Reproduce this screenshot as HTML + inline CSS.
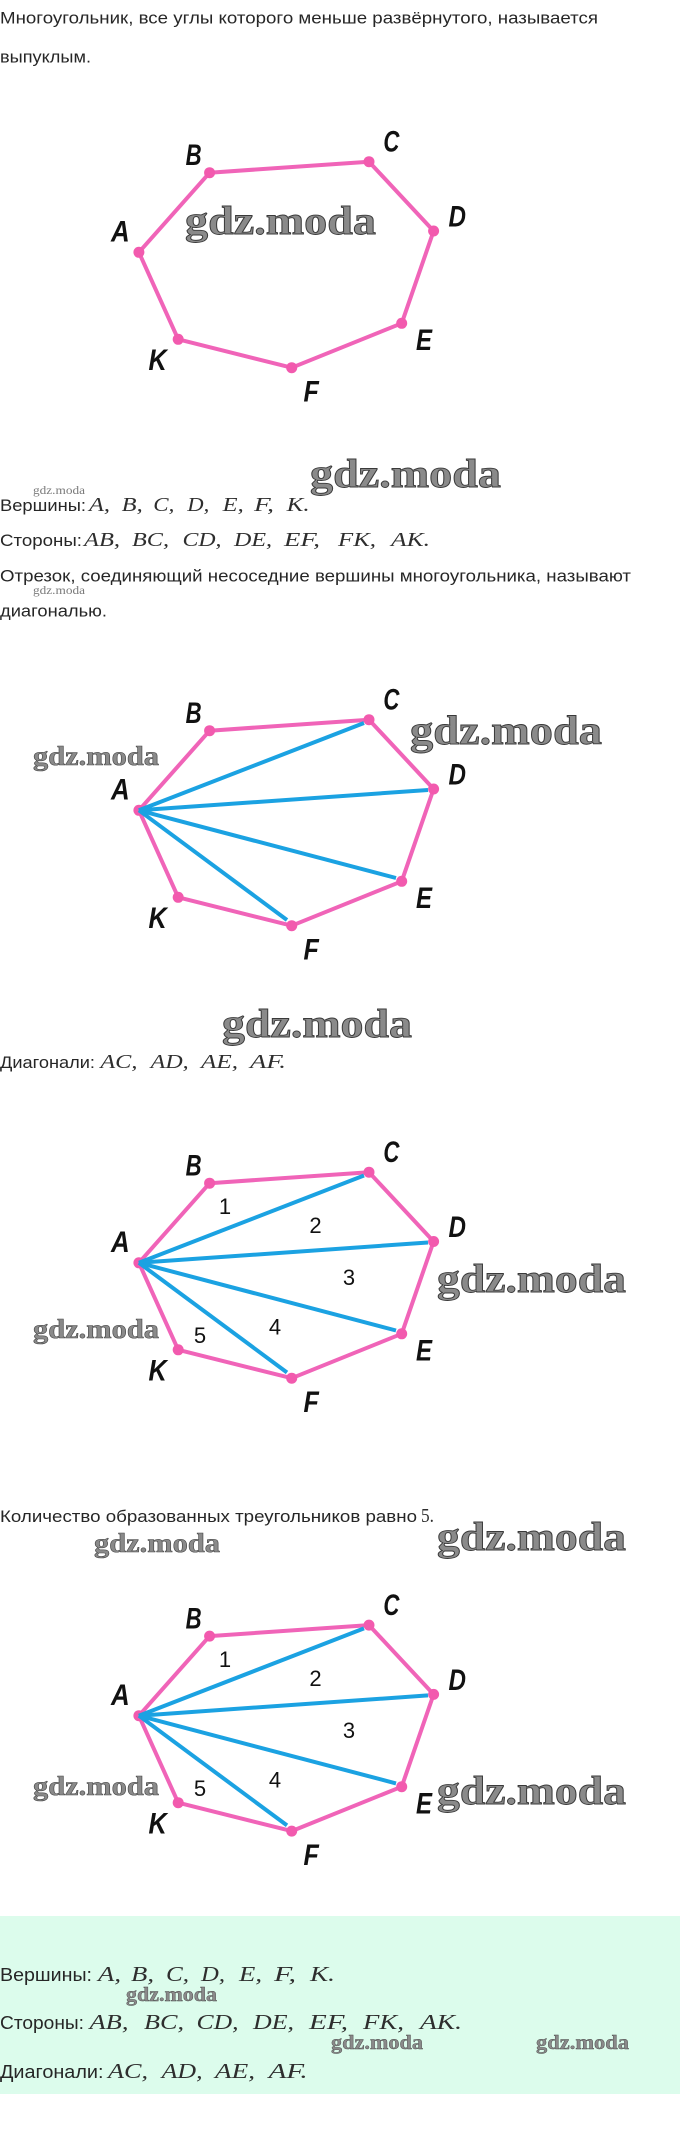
<!DOCTYPE html>
<html><head><meta charset="utf-8">
<style>
html,body{margin:0;padding:0;background:#fff;}
svg{display:block;}
.t{font-family:"Liberation Sans","DejaVu Sans",sans-serif;fill:#262626;}
.m{font-family:"Liberation Serif","DejaVu Serif",serif;font-style:italic;fill:#2e2e2e;font-size:20px;}
.mb{font-family:"Liberation Serif","DejaVu Serif",serif;font-style:italic;fill:#2e2e2e;font-size:21.5px;}
.lb{font-family:"Liberation Sans","DejaVu Sans",sans-serif;font-style:italic;font-weight:bold;font-size:30px;fill:#111;}
.n{font-family:"Liberation Sans","DejaVu Sans",sans-serif;font-size:22px;fill:#111;text-anchor:middle;}
.wl{font-family:"Liberation Serif","DejaVu Serif",serif;font-weight:bold;fill:#8a8a8a;stroke:#3a3a3a;stroke-width:0.9;}
.wm{font-family:"Liberation Serif","DejaVu Serif",serif;font-weight:bold;fill:#8a8a8a;stroke:#474747;stroke-width:0.6;}
.ws{font-family:"Liberation Serif","DejaVu Serif",serif;fill:#7a7a7a;}
</style></head>
<body>
<svg width="680" height="2130" viewBox="0 0 680 2130" xmlns="http://www.w3.org/2000/svg">
<defs>
  <g id="poly">
    <polygon points="138.9,252.3 209.6,172.7 369,161.7 433.6,231 401.7,323.3 291.7,367.7 178.2,339.3" fill="none" stroke="#f064b8" stroke-width="4" stroke-linejoin="round"/>
  </g>
  <g id="dots">
    <circle cx="209.6" cy="172.7" r="5.5" fill="#f25aae"/>
    <circle cx="369" cy="161.7" r="5.5" fill="#f25aae"/>
    <circle cx="433.6" cy="231" r="5.5" fill="#f25aae"/>
    <circle cx="401.7" cy="323.3" r="5.5" fill="#f25aae"/>
    <circle cx="291.7" cy="367.7" r="5.5" fill="#f25aae"/>
    <circle cx="178.2" cy="339.3" r="5.5" fill="#f25aae"/>
  </g>
  <g id="diag">
    <line x1="138.9" y1="252.3" x2="364" y2="165" stroke="#1ba2e2" stroke-width="4"/>
    <line x1="138.9" y1="252.3" x2="428" y2="232" stroke="#1ba2e2" stroke-width="4"/>
    <line x1="138.9" y1="252.3" x2="396" y2="320" stroke="#1ba2e2" stroke-width="4"/>
    <line x1="138.9" y1="252.3" x2="287" y2="362" stroke="#1ba2e2" stroke-width="4"/>
  </g>
  <g id="labels">
    <text class="lb" x="185.6" y="165" textLength="16" lengthAdjust="spacingAndGlyphs">B</text>
    <text class="lb" x="383.4" y="151.7" textLength="16" lengthAdjust="spacingAndGlyphs">C</text>
    <text class="lb" x="448.5" y="226.7" textLength="17.5" lengthAdjust="spacingAndGlyphs">D</text>
    <text class="lb" x="111" y="241.7" textLength="18.7" lengthAdjust="spacingAndGlyphs">A</text>
    <text class="lb" x="416" y="350" textLength="16" lengthAdjust="spacingAndGlyphs">E</text>
    <text class="lb" x="148.5" y="370" textLength="18.3" lengthAdjust="spacingAndGlyphs">K</text>
    <text class="lb" x="303.5" y="401.7" textLength="15.3" lengthAdjust="spacingAndGlyphs">F</text>
  </g>
  <g id="nums">
    <text class="n" x="225" y="203.5">1</text>
    <text class="n" x="315.5" y="222.5">2</text>
    <text class="n" x="349" y="274.5">3</text>
    <text class="n" x="275" y="324">4</text>
    <text class="n" x="200" y="332.5">5</text>
  </g>
</defs>

<!-- Section 1 text -->
<text class="t" x="0" y="23.5" font-size="16.5" textLength="598" lengthAdjust="spacingAndGlyphs">Многоугольник, все углы которого меньше развёрнутого, называется</text>
<text class="t" x="0" y="62.5" font-size="16.5" textLength="91" lengthAdjust="spacingAndGlyphs">выпуклым.</text>

<!-- Polygon 1 -->
<g>
  <use href="#poly"/>
  <circle cx="138.9" cy="252.3" r="5.5" fill="#f25aae"/>
  <use href="#dots"/>
  <use href="#labels"/>
  <text class="wl" x="185" y="234" font-size="40" textLength="191" lengthAdjust="spacingAndGlyphs">gdz.moda</text>
</g>

<!-- Section 1 lists -->
<text class="wl" x="310" y="487" font-size="40" textLength="191" lengthAdjust="spacingAndGlyphs">gdz.moda</text>
<text class="ws" x="33" y="494" font-size="12" textLength="52" lengthAdjust="spacingAndGlyphs">gdz.moda</text>
<text class="t" x="0" y="511" font-size="16.5" textLength="86" lengthAdjust="spacingAndGlyphs">Вершины:</text>
<text class="m" x="89" y="511" textLength="21" lengthAdjust="spacingAndGlyphs">A,</text>
<text class="m" x="121.7" y="511" textLength="21" lengthAdjust="spacingAndGlyphs">B,</text>
<text class="m" x="153.3" y="511" textLength="21" lengthAdjust="spacingAndGlyphs">C,</text>
<text class="m" x="187.3" y="511" textLength="22" lengthAdjust="spacingAndGlyphs">D,</text>
<text class="m" x="222.7" y="511" textLength="21" lengthAdjust="spacingAndGlyphs">E,</text>
<text class="m" x="254" y="511" textLength="20" lengthAdjust="spacingAndGlyphs">F,</text>
<text class="m" x="286.7" y="511" textLength="23" lengthAdjust="spacingAndGlyphs">K.</text>

<text class="t" x="0" y="546" font-size="16.5" textLength="82" lengthAdjust="spacingAndGlyphs">Стороны:</text>
<text class="m" x="84" y="546" textLength="36" lengthAdjust="spacingAndGlyphs">AB,</text>
<text class="m" x="132" y="546" textLength="37" lengthAdjust="spacingAndGlyphs">BC,</text>
<text class="m" x="182.5" y="546" textLength="39" lengthAdjust="spacingAndGlyphs">CD,</text>
<text class="m" x="234" y="546" textLength="38" lengthAdjust="spacingAndGlyphs">DE,</text>
<text class="m" x="284" y="546" textLength="36" lengthAdjust="spacingAndGlyphs">EF,</text>
<text class="m" x="338" y="546" textLength="38" lengthAdjust="spacingAndGlyphs">FK,</text>
<text class="m" x="391" y="546" textLength="39" lengthAdjust="spacingAndGlyphs">AK.</text>

<text class="t" x="0" y="581.5" font-size="16.5" textLength="631" lengthAdjust="spacingAndGlyphs">Отрезок, соединяющий несоседние вершины многоугольника, называют</text>
<text class="ws" x="33" y="594" font-size="12" textLength="52" lengthAdjust="spacingAndGlyphs">gdz.moda</text>
<text class="t" x="0" y="616.5" font-size="16.5" textLength="107" lengthAdjust="spacingAndGlyphs">диагональю.</text>

<!-- Polygon 2 -->
<g transform="translate(0,558)">
  <use href="#poly"/>
  <circle cx="138.9" cy="252.3" r="5.5" fill="#f25aae"/>
  <use href="#diag"/>
  <use href="#dots"/>
  <use href="#labels"/>
</g>
<text class="wm" x="33" y="765" font-size="27" textLength="126" lengthAdjust="spacingAndGlyphs">gdz.moda</text>
<text class="wl" x="410" y="744" font-size="41" textLength="192" lengthAdjust="spacingAndGlyphs">gdz.moda</text>
<text class="wl" x="222" y="1037" font-size="40" textLength="190" lengthAdjust="spacingAndGlyphs">gdz.moda</text>
<text class="t" x="0" y="1068" font-size="16.5" textLength="95" lengthAdjust="spacingAndGlyphs">Диагонали:</text>
<text class="m" x="100.4" y="1068" textLength="37" lengthAdjust="spacingAndGlyphs">AC,</text>
<text class="m" x="150.7" y="1068" textLength="38" lengthAdjust="spacingAndGlyphs">AD,</text>
<text class="m" x="201" y="1068" textLength="37" lengthAdjust="spacingAndGlyphs">AE,</text>
<text class="m" x="250" y="1068" textLength="36" lengthAdjust="spacingAndGlyphs">AF.</text>

<!-- Polygon 3 -->
<g transform="translate(0,1010.5)">
  <use href="#poly"/>
  <circle cx="138.9" cy="252.3" r="5.5" fill="#f25aae"/>
  <use href="#diag"/>
  <use href="#dots"/>
  <use href="#labels"/>
  <use href="#nums"/>
</g>
<text class="wm" x="33" y="1338" font-size="27" textLength="126" lengthAdjust="spacingAndGlyphs">gdz.moda</text>
<text class="wl" x="437" y="1292" font-size="40" textLength="189" lengthAdjust="spacingAndGlyphs">gdz.moda</text>

<!-- Section 4 -->
<text class="t" x="0" y="1522" font-size="16.5" textLength="417" lengthAdjust="spacingAndGlyphs">Количество образованных треугольников равно</text>
<text class="m" x="421" y="1522" style="font-style:normal" textLength="13" lengthAdjust="spacingAndGlyphs">5.</text>
<text class="wm" x="94" y="1552" font-size="27" textLength="126" lengthAdjust="spacingAndGlyphs">gdz.moda</text>
<text class="wl" x="437" y="1550" font-size="40" textLength="189" lengthAdjust="spacingAndGlyphs">gdz.moda</text>

<g transform="translate(0,1463.4)">
  <use href="#poly"/>
  <circle cx="138.9" cy="252.3" r="5.5" fill="#f25aae"/>
  <use href="#diag"/>
  <use href="#dots"/>
  <use href="#labels"/>
  <use href="#nums"/>
</g>
<text class="wm" x="33" y="1795" font-size="27" textLength="126" lengthAdjust="spacingAndGlyphs">gdz.moda</text>
<text class="wl" x="437" y="1804" font-size="40" textLength="189" lengthAdjust="spacingAndGlyphs">gdz.moda</text>

<!-- Bottom answer box -->
<rect x="0" y="1916" width="680" height="178" fill="#dcfcec"/>
<text class="t" x="0" y="1981" font-size="18" textLength="92" lengthAdjust="spacingAndGlyphs">Вершины:</text>
<text class="mb" x="98" y="1981" textLength="23" lengthAdjust="spacingAndGlyphs">A,</text>
<text class="mb" x="131" y="1981" textLength="23" lengthAdjust="spacingAndGlyphs">B,</text>
<text class="mb" x="166" y="1981" textLength="23" lengthAdjust="spacingAndGlyphs">C,</text>
<text class="mb" x="201" y="1981" textLength="24" lengthAdjust="spacingAndGlyphs">D,</text>
<text class="mb" x="239" y="1981" textLength="23" lengthAdjust="spacingAndGlyphs">E,</text>
<text class="mb" x="274" y="1981" textLength="22" lengthAdjust="spacingAndGlyphs">F,</text>
<text class="mb" x="310" y="1981" textLength="25" lengthAdjust="spacingAndGlyphs">K.</text>
<text class="wm" x="126" y="2001" font-size="20" textLength="91" lengthAdjust="spacingAndGlyphs" style="stroke-width:0.4">gdz.moda</text>

<text class="t" x="0" y="2029" font-size="18" textLength="84" lengthAdjust="spacingAndGlyphs">Стороны:</text>
<text class="mb" x="89.5" y="2029" textLength="39" lengthAdjust="spacingAndGlyphs">AB,</text>
<text class="mb" x="144" y="2029" textLength="40" lengthAdjust="spacingAndGlyphs">BC,</text>
<text class="mb" x="196.5" y="2029" textLength="42" lengthAdjust="spacingAndGlyphs">CD,</text>
<text class="mb" x="253" y="2029" textLength="41" lengthAdjust="spacingAndGlyphs">DE,</text>
<text class="mb" x="309" y="2029" textLength="39" lengthAdjust="spacingAndGlyphs">EF,</text>
<text class="mb" x="363" y="2029" textLength="41" lengthAdjust="spacingAndGlyphs">FK,</text>
<text class="mb" x="420" y="2029" textLength="42" lengthAdjust="spacingAndGlyphs">AK.</text>
<text class="wm" x="331" y="2049" font-size="20" textLength="92" lengthAdjust="spacingAndGlyphs" style="stroke-width:0.4">gdz.moda</text>
<text class="wm" x="536" y="2049" font-size="20" textLength="93" lengthAdjust="spacingAndGlyphs" style="stroke-width:0.4">gdz.moda</text>

<text class="t" x="0" y="2078" font-size="18" textLength="103.5" lengthAdjust="spacingAndGlyphs">Диагонали:</text>
<text class="mb" x="108" y="2078" textLength="40" lengthAdjust="spacingAndGlyphs">AC,</text>
<text class="mb" x="161.6" y="2078" textLength="41" lengthAdjust="spacingAndGlyphs">AD,</text>
<text class="mb" x="215" y="2078" textLength="40" lengthAdjust="spacingAndGlyphs">AE,</text>
<text class="mb" x="268.6" y="2078" textLength="39" lengthAdjust="spacingAndGlyphs">AF.</text>
</svg>
</body></html>
